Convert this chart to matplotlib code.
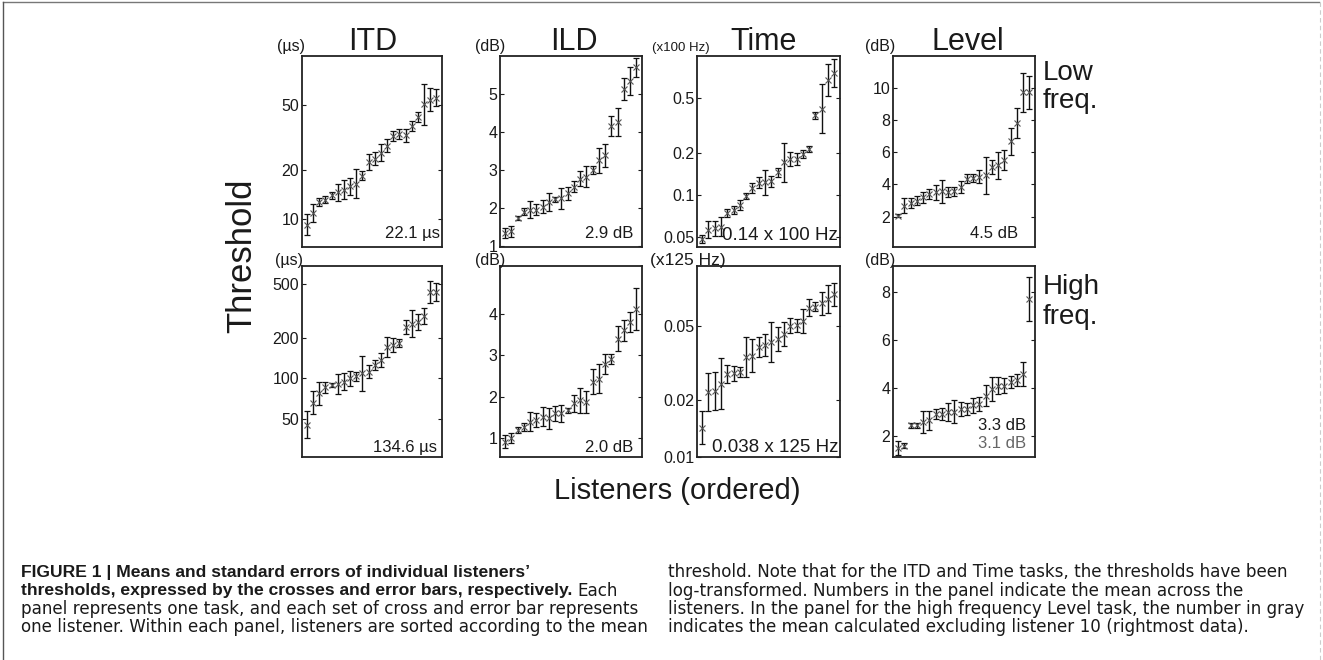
import numpy as np
import matplotlib
matplotlib.use("Agg")
import matplotlib.pyplot as plt
from matplotlib.ticker import FixedLocator, FixedFormatter, NullLocator

plt.rcParams['font.family'] = ['Liberation Sans', 'DejaVu Sans']

W, H = 1323, 660

# ---------------- data (22 listeners per panel, sorted) ----------------
listeners = np.arange(1, 23)

# ITD low frequency (us), error in log10 units
itd_low_mean = [9.2, 10.9, 12.6, 13.1, 13.9, 14.5, 15.1, 15.8, 16.4, 18.4, 22.2, 23.3,
                25.5, 28.0, 32.3, 33.0, 32.6, 37.0, 42.0, 50.5, 54.0, 55.5]
itd_low_err = [0.065, 0.055, 0.025, 0.02, 0.02, 0.05, 0.06, 0.05, 0.09, 0.03, 0.05, 0.04,
               0.05, 0.04, 0.03, 0.03, 0.04, 0.03, 0.03, 0.125, 0.07, 0.05]
# ITD high frequency (us), error in log10 units
itd_high_mean = [45.2, 65.9, 77.3, 85.5, 89.0, 91.0, 94.0, 100.0, 103.0, 109.0, 112.0, 125.0,
                 136.0, 171.0, 176.0, 183.0, 240.0, 254.0, 261.0, 288.0, 434.0, 434.0]
itd_high_err = [0.10, 0.086, 0.086, 0.043, 0.015, 0.074, 0.064, 0.055, 0.033, 0.13, 0.05, 0.037,
                0.05, 0.074, 0.05, 0.03, 0.055, 0.10, 0.06, 0.06, 0.08, 0.067]
# ILD low frequency (dB)
ild_low_mean = [1.35, 1.39, 1.74, 1.91, 1.96, 1.96, 2.04, 2.16, 2.23, 2.26, 2.39, 2.57,
                2.78, 2.83, 3.00, 3.26, 3.39, 4.17, 4.26, 5.13, 5.35, 5.70]
ild_low_err = [0.13, 0.15, 0.05, 0.10, 0.22, 0.15, 0.17, 0.24, 0.07, 0.28, 0.17, 0.15,
               0.20, 0.28, 0.10, 0.33, 0.30, 0.26, 0.37, 0.28, 0.37, 0.24]
# ILD high frequency (dB)
ild_high_mean = [0.92, 1.00, 1.20, 1.28, 1.40, 1.44, 1.52, 1.48, 1.60, 1.60, 1.68, 1.84,
                 1.92, 1.88, 2.36, 2.44, 2.80, 2.92, 3.40, 3.60, 3.80, 4.12]
ild_high_err = [0.16, 0.12, 0.07, 0.10, 0.23, 0.16, 0.23, 0.25, 0.18, 0.20, 0.06, 0.20,
                0.30, 0.26, 0.30, 0.36, 0.24, 0.12, 0.30, 0.26, 0.24, 0.50]
# Time low frequency (x100 Hz), error in log10 units
time_low_mean = [0.0484, 0.0565, 0.0578, 0.0594, 0.0745, 0.0785, 0.0852, 0.0985, 0.113, 0.123,
                 0.124, 0.126, 0.146, 0.172, 0.182, 0.182, 0.197, 0.214, 0.375, 0.418, 0.672, 0.75]
time_low_err = [0.03, 0.06, 0.055, 0.067, 0.03, 0.03, 0.035, 0.02, 0.035, 0.04, 0.09, 0.04,
                0.03, 0.14, 0.05, 0.04, 0.03, 0.02, 0.025, 0.175, 0.115, 0.10]
# Time high frequency (x125 Hz), error in log10 units
time_high_mean = [0.0143, 0.0222, 0.0224, 0.0246, 0.0277, 0.0280, 0.0285, 0.0340, 0.0347, 0.0384,
                  0.0395, 0.0408, 0.0425, 0.0452, 0.0500, 0.0504, 0.0530, 0.0625, 0.0632, 0.0659,
                  0.0691, 0.0735]
time_high_err = [0.088, 0.10, 0.10, 0.137, 0.05, 0.04, 0.027, 0.108, 0.086, 0.053, 0.057, 0.106,
                 0.062, 0.062, 0.04, 0.035, 0.062, 0.044, 0.022, 0.062, 0.075, 0.062]
# Level low frequency (dB)
level_low_mean = [2.04, 2.67, 2.84, 2.99, 3.20, 3.41, 3.52, 3.56, 3.52, 3.56, 3.84, 4.36,
                  4.40, 4.47, 4.57, 5.10, 5.20, 5.52, 6.68, 7.84, 9.74, 9.74]
level_low_err = [0.10, 0.47, 0.30, 0.30, 0.35, 0.30, 0.47, 0.74, 0.30, 0.30, 0.35, 0.30,
                 0.25, 0.40, 1.16, 0.45, 0.84, 0.63, 0.84, 0.95, 1.20, 1.03]
# Level high frequency (dB)
level_high_mean = [1.47, 1.58, 2.42, 2.42, 2.56, 2.63, 2.91, 2.91, 2.98, 3.00, 3.12, 3.12,
                   3.26, 3.33, 3.67, 3.95, 4.09, 4.09, 4.23, 4.34, 4.58, 7.72]
level_high_err = [0.28, 0.10, 0.10, 0.10, 0.45, 0.38, 0.20, 0.25, 0.38, 0.49, 0.30, 0.25,
                  0.30, 0.30, 0.45, 0.49, 0.35, 0.30, 0.25, 0.25, 0.49, 0.94]

task_titles = ["ITD", "ILD", "Time", "Level"]
row_labels = ["Low\nfreq.", "High\nfreq."]
mean_labels = [["22.1 \u00b5s", "2.9 dB", "0.14 x 100 Hz", "4.5 dB"],
               ["134.6 \u00b5s", "2.0 dB", "0.038 x 125 Hz", "3.3 dB"]]
gray_label = "3.1 dB"
unit_labels = [["(\u00b5s)", "(dB)", "(x100 Hz)", "(dB)"],
               ["(\u00b5s)", "(dB)", "(x125 Hz)", "(dB)"]]

panels = [
    [(itd_low_mean, itd_low_err, True, (6.7, 100), [10, 20, 50], ["10", "20", "50"]),
     (ild_low_mean, ild_low_err, False, (0.98, 6.0), [1, 2, 3, 4, 5], ["1", "2", "3", "4", "5"]),
     (time_low_mean, time_low_err, True, (0.0425, 1.0), [0.05, 0.1, 0.2, 0.5], ["0.05", "0.1", "0.2", "0.5"]),
     (level_low_mean, level_low_err, False, (0.1, 12), [2, 4, 6, 8, 10], ["2", "4", "6", "8", "10"])],
    [(itd_high_mean, itd_high_err, True, (26, 680), [50, 100, 200, 500], ["50", "100", "200", "500"]),
     (ild_high_mean, ild_high_err, False, (0.55, 5.15), [1, 2, 3, 4], ["1", "2", "3", "4"]),
     (time_high_mean, time_high_err, True, (0.01, 0.104), [0.01, 0.02, 0.05], ["0.01", "0.02", "0.05"]),
     (level_high_mean, level_high_err, False, (1.1, 9.1), [2, 4, 6, 8], ["2", "4", "6", "8"])],
]

caption_left_bold1 = "FIGURE 1 | Means and standard errors of individual listeners\u2019"
caption_left_bold2 = "thresholds, expressed by the crosses and error bars, respectively."
caption_left_reg2 = "Each"
caption_left_rest = ["panel represents one task, and each set of cross and error bar represents",
                     "one listener. Within each panel, listeners are sorted according to the mean"]
caption_right = ["threshold. Note that for the ITD and Time tasks, the thresholds have been",
                 "log-transformed. Numbers in the panel indicate the mean across the",
                 "listeners. In the panel for the high frequency Level task, the number in gray",
                 "indicates the mean calculated excluding listener 10 (rightmost data)."]

# ---------------- layout ----------------
fig = plt.figure(figsize=(W / 100, H / 100), dpi=100)
fig.patch.set_facecolor("white")

col_left = [302, 500, 697, 893]
col_right = [442, 642, 840, 1035]
row_top = [56, 266]
row_bot = [247, 457]

def fx(x):
    return x / W

def fy(y):
    return 1 - y / H

ink = "#1a1a1a"

for r in range(2):
    for c in range(4):
        mean, err, logy, ylim, ticks, tlabels = panels[r][c]
        ax = fig.add_axes([fx(col_left[c]), fy(row_bot[r]),
                           (col_right[c] - col_left[c]) / W, (row_bot[r] - row_top[r]) / H])
        mean = np.asarray(mean, float)
        err = np.asarray(err, float)
        if logy:
            ax.set_yscale("log")
            lo = mean - mean * 10 ** (-err)
            hi = mean * 10 ** err - mean
        else:
            lo = err
            hi = err
        ax.errorbar(listeners, mean, yerr=[lo, hi], fmt="none", ecolor="#111111",
                    elinewidth=1.0, capsize=2.0, capthick=0.9)
        ax.plot(listeners, mean, linestyle="none", marker="x", markersize=4,
                mew=0.8, color="#555555")
        ax.set_xlim(0.2, 22.9)
        ax.set_ylim(*ylim)
        ax.yaxis.set_major_locator(FixedLocator(ticks))
        ax.yaxis.set_major_formatter(FixedFormatter(tlabels))
        ax.yaxis.set_minor_locator(NullLocator())
        ax.xaxis.set_major_locator(NullLocator())
        ax.xaxis.set_minor_locator(NullLocator())
        ax.tick_params(axis="y", direction="in", length=3, width=0.8, left=True, right=True,
                       labelsize=11.5, pad=2, colors=ink, labelcolor=ink)
        for s in ax.spines.values():
            s.set_linewidth(1.3)
            s.set_color("#222222")
        # mean label
        big = c == 2
        if r == 0:
            yb = 238 if not big else 240
        else:
            yb = 452
        xr = [440, 633, 838, 1018][c] if r == 0 else [437, 633, 838, 1026][c]
        if r == 1 and c == 3:
            yb = 430
        fig.text(fx(xr), fy(yb), mean_labels[r][c], ha="right", va="baseline",
                 fontsize=13.5 if big else 12, color=ink)

fig.text(fx(1026), fy(448), gray_label, ha="right", va="baseline", fontsize=12, color="#666666")

# unit labels
unit_x = [[277, 475, 652, 865], [275, 475, 650, 865]]
unit_y = [51, 265]
for r in range(2):
    for c in range(4):
        fs = 11.5
        if c == 2:
            fs = 9.5 if r == 0 else 12.5
        fig.text(fx(unit_x[r][c]), fy(unit_y[r]), unit_labels[r][c], ha="left", va="baseline",
                 fontsize=fs, color=ink)

# column titles
title_x = [373, 574, 764, 968]
for c in range(4):
    fig.text(fx(title_x[c]), fy(50), task_titles[c], ha="center", va="baseline",
             fontsize=22, color=ink)

# row labels
fig.text(fx(1043), fy(60), row_labels[0], ha="left", va="top", fontsize=20,
         color=ink, linespacing=1.1)
fig.text(fx(1043), fy(274), row_labels[1], ha="left", va="top", fontsize=20,
         color=ink, linespacing=1.2)

# axis labels
fig.text(fx(242), fy(256), "Threshold", rotation=90, ha="center", va="center",
         fontsize=25, color=ink)
fig.text(fx(677), fy(491), "Listeners (ordered)", ha="center", va="center",
         fontsize=21, color=ink)

# caption
bold_fs = 12.6
reg_fs = 12.1
reg_family = ["DejaVu Sans"]
line_y = [577, 595.5, 614, 632.5]
t1 = fig.text(fx(21), fy(line_y[0]), caption_left_bold1, ha="left", va="baseline",
              fontsize=bold_fs, fontweight="bold", color=ink)
t2 = fig.text(fx(21), fy(line_y[1]), caption_left_bold2, ha="left", va="baseline",
              fontsize=bold_fs, fontweight="bold", color=ink)
fig.canvas.draw()
bb = t2.get_window_extent(fig.canvas.get_renderer())
fig.text(fx(bb.x1 + 5), fy(line_y[1]), caption_left_reg2, ha="left", va="baseline",
         fontsize=reg_fs, color=ink, family=reg_family)
for i, s in enumerate(caption_left_rest):
    fig.text(fx(21), fy(line_y[2 + i]), s, ha="left", va="baseline", fontsize=reg_fs,
             color=ink, family=reg_family)
for i, s in enumerate(caption_right):
    fig.text(fx(668), fy(line_y[i]), s, ha="left", va="baseline", fontsize=reg_fs,
             color=ink, family=reg_family)

# frame lines of the scanned page
fig.add_artist(plt.Line2D([fx(3), fx(1319)], [fy(2), fy(2)], color="#777777", lw=1.0))
fig.add_artist(plt.Line2D([fx(3), fx(3)], [fy(2), fy(660)], color="#555555", lw=1.0))
fig.add_artist(plt.Line2D([fx(1320), fx(1320)], [fy(2), fy(660)], color="#cccccc", lw=0.8,
                          linestyle=(0, (4, 3))))

fig.savefig("out.png", dpi=100, facecolor="white")
